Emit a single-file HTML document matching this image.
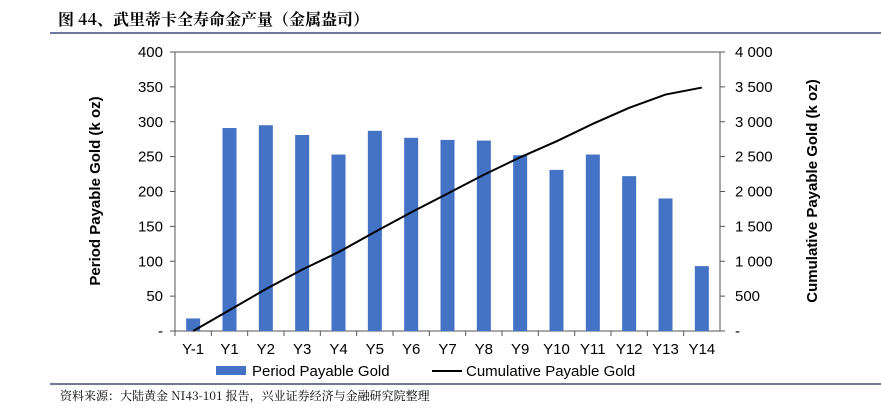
<!DOCTYPE html>
<html><head><meta charset="utf-8"><style>
body{margin:0;background:#fff;width:881px;height:411px;overflow:hidden;font-family:"Liberation Sans","Noto Sans CJK SC",sans-serif}
</style></head><body>
<svg width="881" height="411" style="position:absolute;left:0;top:0">
<text x="58" y="25" font-size="16" font-weight="bold" font-family="'Noto Serif CJK SC',serif">图 44、武里蒂卡全寿命金产量（金属盎司）</text>
<line x1="50" y1="33" x2="881" y2="33" stroke="#3b4a7a" stroke-width="1.5"/>
<g id="plot"></g>
<text transform="translate(100,191) rotate(-90)" text-anchor="middle" font-size="15" font-weight="bold">Period Payable Gold (k oz)</text>
<text transform="translate(817,191) rotate(-90)" text-anchor="middle" font-size="15" font-weight="bold">Cumulative Payable Gold (k oz)</text>
<rect x="216" y="366" width="30" height="9" fill="#4472c4"/>
<text x="252" y="376" font-size="15">Period Payable Gold</text>
<line x1="432" y1="371" x2="462" y2="371" stroke="#000" stroke-width="2"/>
<text x="466" y="376" font-size="15">Cumulative Payable Gold</text>
<line x1="50" y1="384" x2="881" y2="384" stroke="#3b4a7a" stroke-width="1.5"/>
<text x="60" y="400" font-size="12" font-family="'Noto Serif CJK SC',serif">资料来源：大陆黄金 NI43-101 报告，兴业证券经济与金融研究院整理</text>
</svg>
<script>
const categories=["Y-1","Y1","Y2","Y3","Y4","Y5","Y6","Y7","Y8","Y9","Y10","Y11","Y12","Y13","Y14"];
const periodValues=[18,291,295,281,253,287,277,274,273,252,231,253,222,190,93];
const cumulativeValues=[0,300,600,880,1130,1420,1700,1970,2240,2490,2720,2970,3200,3390,3490];
const leftTicks=[0,50,100,150,200,250,300,350,400];
const rightTickLabels=["-","500","1 000","1 500","2 000","2 500","3 000","3 500","4 000"];
const NS="http://www.w3.org/2000/svg";
const g=document.getElementById('plot');
const L=175,R=720,T=52,B=331;
const bw=(R-L)/categories.length;
const xc=i=>L+bw*(i+0.5);
const yl=v=>B-(v/400)*(B-T);
const yr=v=>B-(v/4000)*(B-T);
function mk(t,a){const e=document.createElementNS(NS,t);for(const k in a)e.setAttribute(k,a[k]);g.appendChild(e);return e;}
let f=mk('rect',{x:L,y:T,width:R-L,height:B-T,fill:'none',stroke:'#555','stroke-width':1});


leftTicks.forEach((v,i)=>{
 let y=yl(v);
 let tk=mk('line',{x1:L-5,y1:y,x2:L,y2:y,stroke:'#555'});
 
 
 let t=mk('text',{x:L-12,y:y+5,'text-anchor':'end','font-size':15});
 t.textContent=v===0?'-':String(v);
 
 
 let tk2=mk('line',{x1:R,y1:y,x2:R+5,y2:y,stroke:'#555'});
 
 
 let t2=mk('text',{x:R+15,y:y+5,'font-size':15});
 t2.textContent=rightTickLabels[i];
 
 
});
categories.forEach((c,i)=>{
 let x=L+bw*i;
 let tk=mk('line',{x1:x,y1:B,x2:x,y2:B+5,stroke:'#555'});
 
 
 let b=mk('rect',{x:xc(i)-7,y:yl(periodValues[i]),width:14,height:B-yl(periodValues[i]),fill:'#4472c4'});
 
 
 let t=mk('text',{x:xc(i),y:B+23,'text-anchor':'middle','font-size':15});
 t.textContent=c;
 
 
});
let p=mk('polyline',{points:cumulativeValues.map((v,i)=>xc(i)+','+yr(v)).join(' '),fill:'none',stroke:'#000','stroke-width':2});


</script>
</body></html>
